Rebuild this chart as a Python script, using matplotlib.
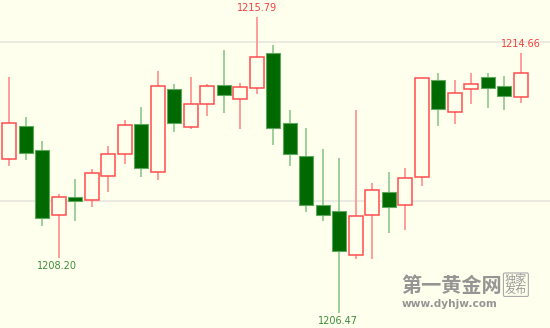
import numpy as np
import matplotlib
matplotlib.use("Agg")
import matplotlib.pyplot as plt

# OHLC values
opens = [1211.33, 1212.36, 1211.60, 1209.57, 1210.13, 1210.03, 1210.79, 1211.48,
         1212.42, 1210.92, 1213.52, 1212.34, 1213.06, 1213.65, 1213.23, 1213.57,
         1214.66, 1212.46, 1211.41, 1209.87, 1209.70, 1208.30, 1209.56, 1210.27,
         1209.89, 1210.75, 1213.82, 1212.82, 1213.53, 1213.91, 1213.64, 1213.27]
closes = [1212.45, 1211.52, 1209.46, 1210.12, 1210.01, 1210.89, 1211.49, 1212.40,
          1211.05, 1213.63, 1212.45, 1213.05, 1213.63, 1213.33, 1213.59, 1214.53,
          1212.30, 1211.48, 1209.86, 1209.57, 1208.43, 1209.54, 1210.34, 1209.80,
          1210.72, 1213.89, 1212.89, 1213.41, 1213.70, 1213.57, 1213.31, 1214.04]
highs = [1213.90, 1212.64, 1211.90, 1210.23, 1210.70, 1211.00, 1211.72, 1212.56,
         1212.97, 1214.10, 1213.68, 1213.91, 1213.70, 1214.76, 1213.71, 1215.79,
         1214.92, 1212.86, 1212.30, 1211.64, 1211.36, 1212.87, 1210.57, 1210.91,
         1211.04, 1213.89, 1214.05, 1213.83, 1214.03, 1214.05, 1213.94, 1214.66]
lows = [1211.09, 1211.28, 1209.22, 1208.20, 1209.38, 1209.80, 1210.28, 1211.17,
        1210.77, 1210.67, 1212.19, 1212.27, 1212.68, 1212.77, 1212.26, 1213.38,
        1211.77, 1211.09, 1209.67, 1209.38, 1206.47, 1208.17, 1208.17, 1208.99,
        1209.09, 1210.49, 1212.38, 1212.43, 1213.07, 1212.94, 1212.87, 1213.08]
grid_levels = [1210, 1215]
# labelled extremes: (candle index, text, kind)
marks = [(15, "1215.79", "high"), (31, "1214.66", "high"),
         (3, "1208.20", "low"), (20, "1206.47", "low")]

bg = "#FFFFEE"
up_edge, up_wick = "#FF4D4D", "#FF8C8C"
dn_face, dn_edge, dn_wick = "#006A00", "#5DA85D", "#8CC88C"

fig = plt.figure(figsize=(5.5, 3.28), dpi=100, facecolor=bg)
ax = fig.add_axes([0, 0, 1, 1], facecolor=bg)

o = np.array(opens); c = np.array(closes)
x = np.arange(len(o))
up = c >= o

for lvl in grid_levels:
    ax.axhline(lvl, color="#E6E6DE", lw=1.2, zorder=0)

ax.vlines(x[up], np.array(lows)[up], np.array(highs)[up], color=up_wick, lw=1.2, zorder=1)
ax.vlines(x[~up], np.array(lows)[~up], np.array(highs)[~up], color=dn_wick, lw=1.2, zorder=1)

body_lo = np.minimum(o, c)
body_h = np.abs(c - o)
ax.bar(x[up], body_h[up], bottom=body_lo[up], width=0.85, facecolor=bg,
       edgecolor=up_edge, linewidth=1.1, zorder=2)
ax.bar(x[~up], body_h[~up], bottom=body_lo[~up], width=0.85, facecolor=dn_face,
       edgecolor=dn_edge, linewidth=0.8, zorder=2)

for i, txt, kind in marks:
    if kind == "high":
        ax.annotate(txt, (i, highs[i]), xytext=(0, 3), textcoords="offset points",
                    ha="center", va="bottom", fontsize=7, color="#F04040")
    else:
        ax.annotate(txt, (i, lows[i]), xytext=(-1, -2), textcoords="offset points",
                    ha="center", va="top", fontsize=7, color="#3C8C3C")

ax.set_xlim(-0.564, 32.77)
ax.set_ylim(1206.0, 1216.335)
ax.axis("off")

# watermark
wm = "#8A8A8A"
cjk = ["Noto Sans CJK SC", "DejaVu Sans"]
fig.text(0.729, 0.098, "第一黄金网", family=cjk, fontsize=14.5, weight="bold",
         color=wm, ha="left", va="bottom", alpha=0.9)
fig.text(0.730, 0.073, "www.dyhjw.com", family="DejaVu Sans", fontsize=7.6,
         weight="bold", color=wm, ha="left", va="center", alpha=0.9)
fig.text(0.938, 0.132, "独家\n发布", family=cjk, fontsize=8, color=wm, ha="center",
         va="center", linespacing=0.95, alpha=0.9,
         bbox=dict(boxstyle="round,pad=0.12", fc="none", ec="#AAAAAA", lw=0.8))

fig.savefig("out.png", dpi=100, facecolor=bg)
